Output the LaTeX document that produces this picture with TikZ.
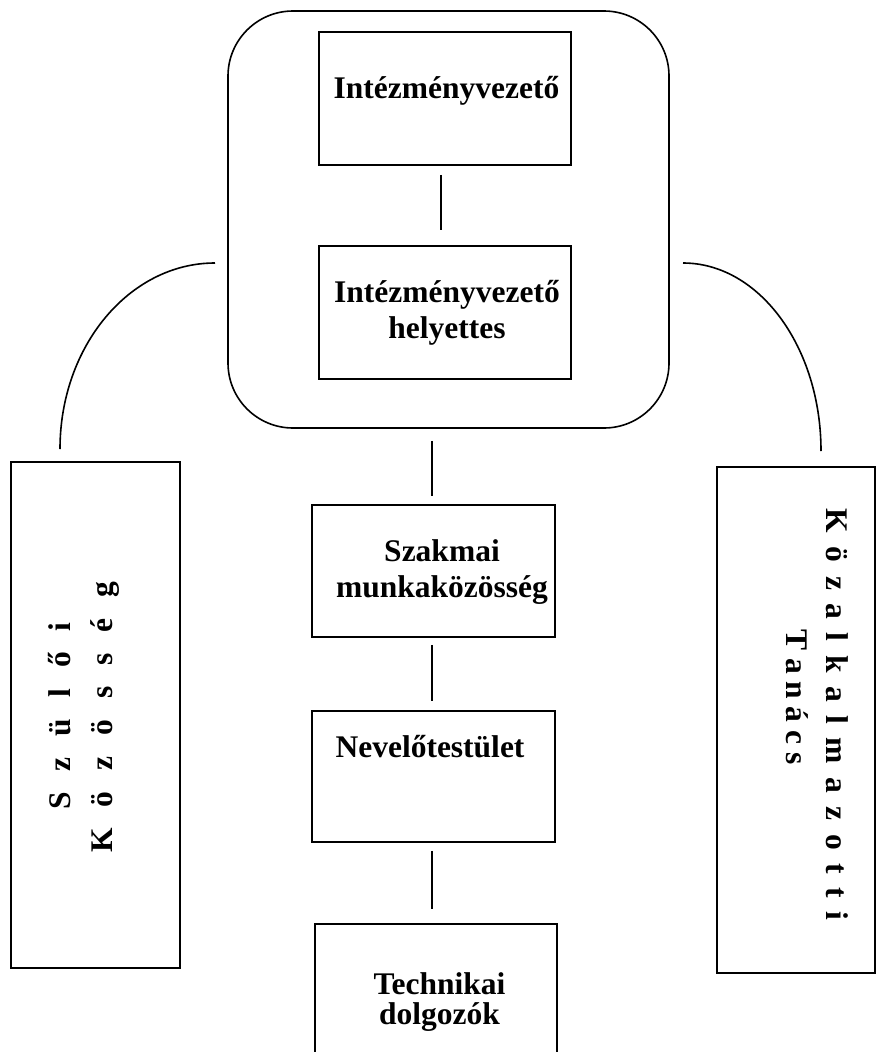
\documentclass[tikz,border=0pt]{standalone}
\usepackage{fontspec}
\setmainfont{Liberation Serif}
\begin{document}
\begin{tikzpicture}[x=1pt,y=-1pt,
  boxst/.style={draw=black, line width=1.6pt, rectangle, inner sep=0pt},
  conn/.style={draw=black, line width=1.6pt},
  lbl/.style={font=\fontsize{31.5}{36}\selectfont\bfseries, inner sep=0pt, anchor=base},
  vlbl/.style={font=\fontsize{31.5}{36}\selectfont\bfseries, inner sep=0pt, anchor=base}]
\clip (0,0) rectangle (876,1052);
\fill[white] (0,0) rectangle (876,1052);
% boxes
\node[boxst, minimum width=441pt, minimum height=417pt, rounded corners=65pt] (rr) at (448.5,219.5) {};
\node[boxst, minimum width=252pt, minimum height=133pt] (b1) at (445,98.5) {};
\node[boxst, minimum width=252pt, minimum height=133pt] (b2) at (445,312.5) {};
\node[boxst, minimum width=243pt, minimum height=132pt] (sz) at (433.5,571) {};
\node[boxst, minimum width=243pt, minimum height=131pt] (nv) at (433.5,776.5) {};
\node[boxst, minimum width=242pt, minimum height=160pt] (tk) at (436,1004) {};
\node[boxst, minimum width=169pt, minimum height=506pt] (lb) at (95.5,715) {};
\node[boxst, minimum width=158pt, minimum height=506pt] (rb) at (796,720) {};
% texts
\node[lbl] (t1) at (446.5,98) {Intézményvezető};
\node[lbl] (t2a) at (447,302) {Intézményvezető};
\node[lbl] (t2b) at (447,338) {helyettes};
\node[lbl] (t3a) at (442,561) {Szakmai};
\node[lbl] (t3b) at (442,597) {munkaközösség};
\node[lbl] (t4) at (430,757) {Nevelőtestület};
\node[lbl] (t5a) at (439.5,994) {Technikai};
\node[lbl] (t5b) at (439.5,1024) {dolgozók};
% side texts
\def\gl{\hspace{21pt}}
\def\gr{\hspace{13.5pt}}
\def\gt{\hspace{7.7pt}}
\node[vlbl, rotate=90] (ls1) at (70,716) {S\gl z\gl ü\gl l\gl ő\gl i};
\node[vlbl, rotate=90] (ls2) at (112,717) {K\gl ö\gl z\gl ö\gl s\gl s\gl é\gl g};
\node[vlbl, rotate=-90] (rs1) at (826,714.5) {K\gr ö\gr z\gr a\gr l\gr k\gr a\gr l\gr m\gr a\gr z\gr o\gr t\gr t\gr i};
\node[vlbl, rotate=-90] (rs2) at (786,697) {T\gt a\gt n\gt á\gt c\gt s};
% connectors
\draw[conn, shorten <=9pt, shorten >=15pt] ([xshift=-4pt]b1.south) -- ([xshift=-4pt]b2.north);
\draw[conn, shorten <=12pt, shorten >=8pt] ([xshift=-1.5pt]sz.north |- rr.south) -- ([xshift=-1.5pt]sz.north);
\draw[conn, shorten <=7pt, shorten >=9pt] ([xshift=-1.5pt]sz.south) -- ([xshift=-1.5pt]nv.north);
\draw[conn, shorten <=8pt, shorten >=14pt] ([xshift=-1.5pt]nv.south) -- ([xshift=-1.5pt]nv.south |- tk.north);
\coordinate (la1) at (215,263);
\coordinate (la2) at (60,449);
\coordinate (ra1) at (683,263);
\coordinate (ra2) at (821,451);
\draw[conn] (la1) .. controls (129.4,263) and (60,346.3) .. (la2);
\draw[conn] (ra1) .. controls (759.2,263) and (821,347.2) .. (ra2);
\end{tikzpicture}
\end{document}
